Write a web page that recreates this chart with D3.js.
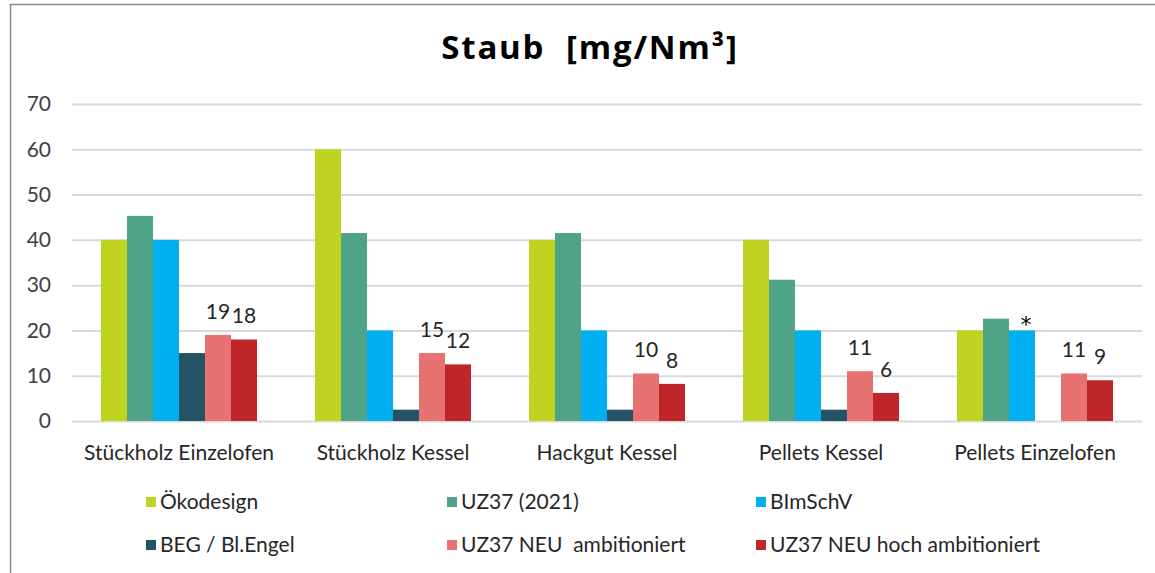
<!DOCTYPE html>
<html><head><meta charset="utf-8">
<script src="https://cdn.jsdelivr.net/npm/d3@7/dist/d3.min.js"></script>
<style>
html,body{margin:0;padding:0;background:#fff;}
svg{display:block;font-family:Lato,"Open Sans",sans-serif;}
</style></head>
<body><svg id="chart" width="1155" height="573"></svg>
<script>
const categories = ["Stückholz Einzelofen","Stückholz Kessel","Hackgut Kessel","Pellets Kessel","Pellets Einzelofen"];
const seriesNames = ["Ökodesign","UZ37 (2021)","BImSchV","BEG / Bl.Engel","UZ37 NEU  ambitioniert","UZ37 NEU hoch ambitioniert"];
const seriesColors = ["#C0D320","#4FA387","#00B0F0","#245366","#E87272","#C0252A"];
const oekodesign = [40,60,40,40,20];
const uz37_2021 = [45.3,41.5,41.5,31.2,22.6];
const bimschv = [40,20,20,20,20];
const beg = [15,2.5,2.5,2.5,null];
const uz37neu = [19,15,10.5,11,10.5];
const uz37neuHoch = [18,12.5,8.2,6.2,9];
const labelsNeu = ["19","15","10","11","11"];
const labelsNeuHoch = ["18","12","8","6","9"];
const labelsBimschv = ["","","","","*"];
const yTicks = [0,10,20,30,40,50,60,70];

const seriesValues = [oekodesign,uz37_2021,bimschv,beg,uz37neu,uz37neuHoch];
const seriesLabels = [null,null,labelsBimschv,null,labelsNeu,labelsNeuHoch];

const svg = d3.select("#chart");
// frame
svg.append("line").attr("x1",10).attr("x2",1155).attr("y1",4.5).attr("y2",4.5).attr("stroke","#8c8c8c").attr("stroke-width",1.5);
svg.append("line").attr("x1",10.5).attr("x2",10.5).attr("y1",4).attr("y2",573).attr("stroke","#8c8c8c").attr("stroke-width",1.5);

const y = d3.scaleLinear().domain([0,70]).range([421,104]);
const x0 = d3.scaleBand().domain(categories).range([72,1142]).padding(0);
const x1 = d3.scaleBand().domain(d3.range(seriesNames.length)).range([0,x0.bandwidth()]).paddingInner(0).paddingOuter(1.115);

// title
svg.append("text").attr("x",590).attr("y",59).attr("text-anchor","middle")
  .style("font-family","'Open Sans',sans-serif")
  .style("font-size","33px").style("font-weight","bold").style("letter-spacing","1.8px")
  .style("white-space","pre").attr("fill","#000")
  .text("Staub  [mg/Nm³]");

// gridlines
const yAxis = d3.axisLeft(y).tickValues(yTicks).tickSize(-(1142-72)).tickPadding(21).tickFormat(d3.format("d"));
const gAxis = svg.append("g").attr("transform","translate(72,0)").call(yAxis);
gAxis.select(".domain").remove();
gAxis.selectAll(".tick line").attr("stroke","#d9d9d9").attr("stroke-width",2);
gAxis.selectAll(".tick text").attr("fill","#404040").style("font-size","21px").style("font-family","Lato");

// bars
const groups = svg.append("g").selectAll("g").data(categories).join("g")
  .attr("transform",d=>`translate(${x0(d)},0)`);
seriesValues.forEach((vals,si)=>{
  groups.each(function(c,ci){
    const v = vals[ci];
    if(v==null) return;
    d3.select(this).append("rect")
      .attr("x",x1(si)).attr("width",x1.bandwidth())
      .attr("y",y(v)).attr("height",y(0)-y(v))
      .attr("fill",seriesColors[si]);
    const labs = seriesLabels[si];
    if(labs && labs[ci]){
      const isStar = labs[ci]==="*";
      d3.select(this).append("text")
        .attr("x",x1(si)+x1.bandwidth()/2 + (isStar?4:0))
        .attr("y", isStar ? y(v)+2 : y(v)-16)
        .attr("text-anchor","middle")
        .style("font-family", isStar ? "'DejaVu Sans',sans-serif" : "Lato")
        .style("font-size", isStar ? "22px" : "21px")
        .attr("fill", isStar ? "#000" : "#262626")
        .text(labs[ci]);
    }
  });
});

// x axis labels
const xAxis = d3.axisBottom(x0).tickSize(0).tickPadding(0);
const gx = svg.append("g").attr("transform","translate(0,421)").call(xAxis);
gx.select(".domain").remove();
gx.selectAll(".tick text").attr("fill","#262626").style("font-size","21px").style("font-family","Lato").attr("dy",null).attr("y",39);

// legend
const legendX = [146,447,756];
const legendY = [502,545];
const leg = svg.append("g");
seriesNames.forEach((n,i)=>{
  const gx = legendX[i%3], gy = legendY[Math.floor(i/3)];
  leg.append("rect").attr("x",gx).attr("y",gy-5).attr("width",10).attr("height",10).attr("fill",seriesColors[i]);
  leg.append("text").attr("x",gx+14).attr("y",gy+7).style("font-size","21px").style("white-space","pre").attr("fill","#262626").text(n);
});
</script></body></html>
